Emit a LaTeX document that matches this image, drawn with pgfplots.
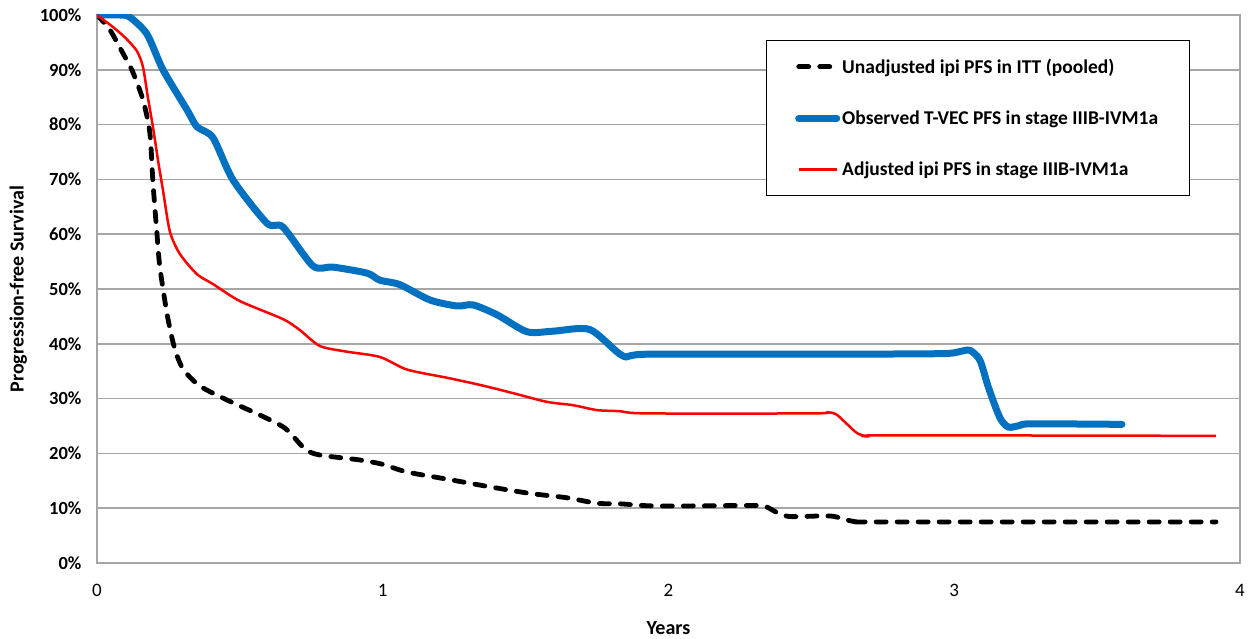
\documentclass[border=0pt]{standalone}
\usepackage{pgfplots}
\pgfplotsset{compat=1.18}
\usepackage{fontspec}
\setmainfont{Carlito}
\definecolor{tvec}{HTML}{0070C0}
\definecolor{gridc}{HTML}{A6A6A6}
\begin{document}
\begin{tikzpicture}
\begin{axis}[
  at={(0pt,0pt)}, anchor=south west,
  scale only axis, width=1143pt, height=548pt,
  xmin=0, xmax=4, ymin=0, ymax=100,
  xtick={0,1,2,3,4}, ytick={0,10,...,100},
  yticklabel={\pgfmathprintnumber{\tick}\%},
  /pgf/number format/assume math mode=true,
  ymajorgrids, major grid style={gridc, line width=1.5pt},
  axis line style={gridc, line width=1.5pt},
  major tick length=0pt,
  xticklabel style={font=\fontsize{19}{22}\selectfont, yshift=-18pt},
  yticklabel style={font=\bfseries\fontsize{18.5}{21}\selectfont, xshift=-12pt},
  xlabel={Years}, ylabel={Progression-free Survival},
  xlabel style={font=\bfseries\fontsize{20}{23}\selectfont, yshift=-18pt},
  ylabel style={font=\bfseries\fontsize{20}{23}\selectfont, yshift=6pt},
  legend cell align=left,
  legend style={at={(0.585,0.954)}, anchor=north west, draw=black, line width=1.2pt,
    fill=white, font=\bfseries\fontsize{19.5}{22}\selectfont, inner xsep=29pt, inner ysep=16pt,
    row sep=32pt},
  legend image code/.code={\draw[#1] (0pt,0pt) -- (38pt,0pt);},
]
\addplot[black, line width=4.8pt, line cap=round, dash pattern=on 10pt off 11pt, smooth, tension=0.45] coordinates {
(0,100) (0.045,97.3) (0.091,93) (0.126,89.5) (0.161,84.5) (0.185,78.5) (0.196,69.3) (0.21,60) (0.22,54) (0.245,45.5) (0.27,39.5) (0.3,35.5) (0.36,32.3) (0.465,29.5) (0.57,27) (0.658,24.6) (0.728,20.8) (0.78,19.7) (0.92,18.8) (1.0,18) (1.085,16.6) (1.225,15.3) (1.375,13.9) (1.515,12.7) (1.645,11.9) (1.75,10.9) (1.83,10.8) (1.96,10.4) (2.3,10.5) (2.34,10.3) (2.38,9.2) (2.42,8.5) (2.48,8.5) (2.54,8.6) (2.58,8.5) (2.62,7.9) (2.66,7.5) (2.72,7.5) (3.916,7.5)
};
\addlegendentry{Unadjusted ipi PFS in ITT (pooled)}
\addplot[tvec, line width=7pt, line cap=round, smooth, tension=0.45] coordinates {
(0,100) (0.08,100) (0.115,99.6) (0.175,96.5) (0.231,90) (0.315,82.7) (0.35,79.6) (0.406,77.6) (0.476,69.9) (0.595,62) (0.651,61.3) (0.756,54.2) (0.826,54) (0.945,52.9) (0.99,51.6) (1.06,50.8) (1.165,48) (1.26,46.9) (1.316,47.1) (1.40,45.3) (1.505,42.2) (1.596,42.3) (1.725,42.6) (1.84,37.8) (1.925,38.1) (2.5,38.1) (2.95,38.2) (3.02,38.6) (3.055,38.8) (3.09,37) (3.12,32) (3.16,26.5) (3.19,24.8) (3.23,25.1) (3.27,25.4) (3.587,25.3)
};
\addlegendentry{Observed T-VEC PFS in stage IIIB-IVM1a}
\addplot[red, line width=2.5pt, smooth, tension=0.45] coordinates {
(0,100) (0.056,97.8) (0.1,95.8) (0.14,93.4) (0.161,90.5) (0.178,85) (0.196,79.5) (0.215,73) (0.231,68) (0.255,60.5) (0.29,56.4) (0.35,52.7) (0.406,50.9) (0.5,47.8) (0.651,44.5) (0.71,42.5) (0.78,39.6) (0.87,38.6) (0.99,37.6) (1.085,35.3) (1.225,33.8) (1.34,32.5) (1.456,31) (1.575,29.4) (1.666,28.8) (1.75,27.9) (1.83,27.7) (1.925,27.3) (2.506,27.3) (2.555,27.5) (2.585,27.2) (2.62,25.6) (2.66,23.7) (2.70,23.1) (2.76,23.3) (3.916,23.2)
};
\addlegendentry{Adjusted ipi PFS in stage IIIB-IVM1a}
\end{axis}
\pgfresetboundingbox
\path (-97pt,-75pt) rectangle (1154pt,563pt);
\end{tikzpicture}
\end{document}
